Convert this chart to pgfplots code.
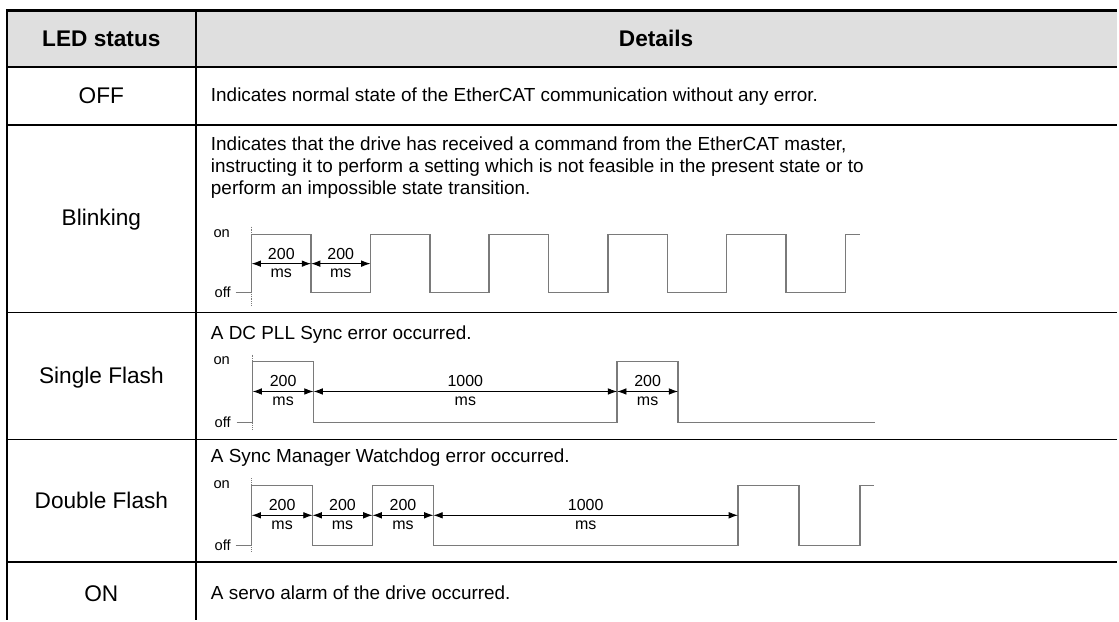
\documentclass[border=0pt]{standalone}
\usepackage{fontspec}
\setmainfont{Liberation Sans}
\usepackage{pgfplots}
\pgfplotsset{compat=1.18}
\usetikzlibrary{arrows.meta}
\definecolor{hdr}{HTML}{DFDFDF}
\definecolor{wave}{HTML}{7A7A7A}
\newcommand\mainf{\fontsize{17}{20}\selectfont}
\newcommand\detf{\fontsize{14.2}{17}\selectfont}
\newcommand\dimf{\fontsize{12}{14}\selectfont}
\newcommand\lvlf{\fontsize{11}{13}\selectfont}
\tikzset{dim/.style={{Latex[length=7pt,width=5pt]}-{Latex[length=7pt,width=5pt]}, line width=0.7pt, black},
 rowline/.style={line width=1.3pt, black},
 tx/.style={font=\detf, inner sep=0pt, anchor=base west},
 cx/.style={font=\mainf, inner sep=0pt, anchor=base}}
\begin{document}
\begin{tikzpicture}
\begin{axis}[scale only axis, width=839.25pt, height=465.75pt,
  xmin=0, xmax=1119, ymin=0, ymax=621, y dir=reverse, hide axis, clip=false]
\fill[white] (axis cs:0,0) rectangle (axis cs:1119,621);
\fill[hdr] (axis cs:7,10) rectangle (axis cs:1119,67);
% table lines
\draw[line width=2.3pt] (axis cs:6,10.5) -- (axis cs:1119,10.5);
\draw[rowline] (axis cs:7,10) -- (axis cs:7,621);
\draw[rowline] (axis cs:196,10) -- (axis cs:196,621);
\draw[rowline] (axis cs:7,67) -- (axis cs:1119,67);
\draw[rowline] (axis cs:7,125) -- (axis cs:1119,125);
\draw[rowline] (axis cs:7,313) -- (axis cs:1119,313);
\draw[rowline] (axis cs:7,440) -- (axis cs:1119,440);
\draw[rowline] (axis cs:7,563) -- (axis cs:1119,563);
% header
\node[cx, font=\mainf\bfseries] at (axis cs:101.5,47) {LED status};
\node[cx, font=\mainf\bfseries] at (axis cs:657,47) {Details};
% first column
\node[cx] at (axis cs:101.5,104) {OFF};
\node[cx] at (axis cs:101.5,226) {Blinking};
\node[cx] at (axis cs:101.5,384) {Single Flash};
\node[cx] at (axis cs:101.5,509) {Double Flash};
\node[cx] at (axis cs:101.5,602) {ON};
% details text
\node[tx] at (axis cs:211,102) {Indicates normal state of the EtherCAT communication without any error.};
\node[tx] at (axis cs:211,151) {Indicates that the drive has received a command from the EtherCAT master,};
\node[tx] at (axis cs:211,173) {instructing it to perform a setting which is not feasible in the present state or to};
\node[tx] at (axis cs:211,195) {perform an impossible state transition.};
\node[tx] at (axis cs:211,340) {A DC PLL Sync error occurred.};
\node[tx] at (axis cs:211,463) {A Sync Manager Watchdog error occurred.};
\node[tx] at (axis cs:211,600) {A servo alarm of the drive occurred.};

% ---------- Blinking waveform ----------
\addplot[wave, densely dotted, line width=0.4pt] coordinates {(252,227) (252,306)};
\addplot[wave, line width=1.1pt] coordinates {
 (236,293) (252,293) (252,235) (311.5,235) (311.5,293) (371,293) (371,235)
 (430.4,235) (430.4,293) (489.8,293) (489.8,235) (549.3,235) (549.3,293)
 (608.7,293) (608.7,235) (668.2,235) (668.2,293) (727.6,293) (727.6,235)
 (787,235) (787,293) (846.5,293) (846.5,235) (861,235)};
\node[font=\lvlf] at (axis cs:222,234) {on};
\node[font=\lvlf] at (axis cs:223,293) {off};
\draw[dim] (axis cs:252,264) -- (axis cs:311.5,264);
\draw[dim] (axis cs:311.5,264) -- (axis cs:371,264);
\node[font=\dimf] at (axis cs:281.7,254) {200};
\node[font=\dimf] at (axis cs:281.7,274) {ms};
\node[font=\dimf] at (axis cs:341.2,254) {200};
\node[font=\dimf] at (axis cs:341.2,274) {ms};

% ---------- Single Flash waveform ----------
\addplot[wave, densely dotted, line width=0.4pt] coordinates {(253,355) (253,430)};
\addplot[wave, line width=1.1pt] coordinates {
 (237,423) (253,423) (253,362) (314,362) (314,423) (618,423) (618,362)
 (679,362) (679,423) (876,423)};
\node[font=\lvlf] at (axis cs:222,361) {on};
\node[font=\lvlf] at (axis cs:223,423) {off};
\draw[dim] (axis cs:253,392) -- (axis cs:314,392);
\draw[dim] (axis cs:314,392) -- (axis cs:618,392);
\draw[dim] (axis cs:618,392) -- (axis cs:679,392);
\node[font=\dimf] at (axis cs:283.5,382) {200};
\node[font=\dimf] at (axis cs:283.5,402) {ms};
\node[font=\dimf] at (axis cs:466,382) {1000};
\node[font=\dimf] at (axis cs:466,402) {ms};
\node[font=\dimf] at (axis cs:648.5,382) {200};
\node[font=\dimf] at (axis cs:648.5,402) {ms};

% ---------- Double Flash waveform ----------
\addplot[wave, densely dotted, line width=0.4pt] coordinates {(252,479) (252,553)};
\addplot[wave, line width=1.1pt] coordinates {
 (236,546) (252,546) (252,486) (313,486) (313,546) (373,546) (373,486)
 (434,486) (434,546) (739,546) (739,486) (800,486) (800,546) (861,546)
 (861,486) (875,486)};
\node[font=\lvlf] at (axis cs:222,485) {on};
\node[font=\lvlf] at (axis cs:223,546) {off};
\draw[dim] (axis cs:252,516) -- (axis cs:313,516);
\draw[dim] (axis cs:313,516) -- (axis cs:373,516);
\draw[dim] (axis cs:373,516) -- (axis cs:434,516);
\draw[dim] (axis cs:434,516) -- (axis cs:739,516);
\node[font=\dimf] at (axis cs:282.5,506) {200};
\node[font=\dimf] at (axis cs:282.5,526) {ms};
\node[font=\dimf] at (axis cs:343,506) {200};
\node[font=\dimf] at (axis cs:343,526) {ms};
\node[font=\dimf] at (axis cs:403.5,506) {200};
\node[font=\dimf] at (axis cs:403.5,526) {ms};
\node[font=\dimf] at (axis cs:586.5,506) {1000};
\node[font=\dimf] at (axis cs:586.5,526) {ms};
\end{axis}
\end{tikzpicture}
\end{document}
